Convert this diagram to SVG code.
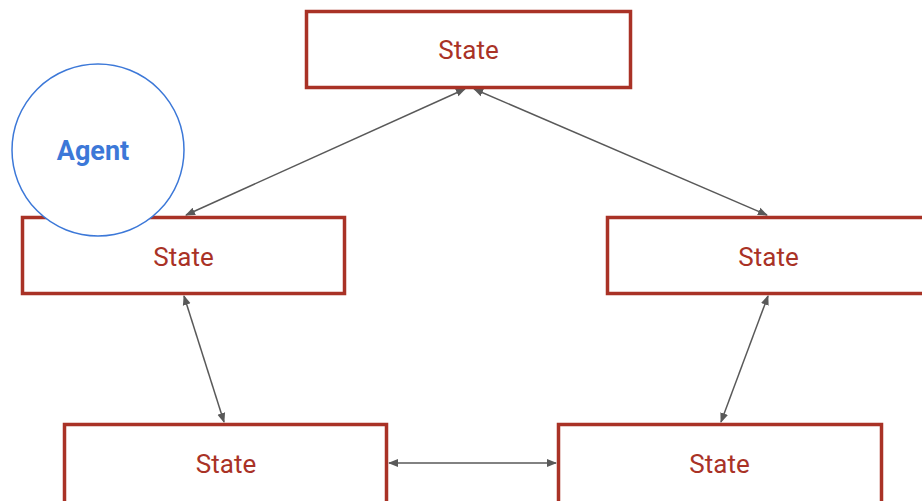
<svg xmlns="http://www.w3.org/2000/svg" width="922" height="501" viewBox="0 0 922 501">
  <style>
    .state rect { fill: #ffffff; stroke: #a93226; stroke-width: 3.5; }
    .state text { fill: #a93226; font-family: Roboto, "Liberation Sans", sans-serif; font-size: 26px; text-anchor: middle; }
    .edge { stroke: #595959; stroke-width: 1.5; fill: none; marker-start: url(#arrow); marker-end: url(#arrow); }
  </style>
  <defs>
    <marker id="arrow" viewBox="0 0 10 10" refX="9" refY="5" markerWidth="10" markerHeight="10" markerUnits="userSpaceOnUse" orient="auto-start-reverse">
      <path d="M0,1 L10,5 L0,9 Z" fill="#595959"/>
    </marker>
  </defs>
  <rect width="922" height="501" fill="#ffffff"/>

  <g id="connectors">
    <line class="edge" x1="465" y1="89" x2="186" y2="215"/>
    <line class="edge" x1="474" y1="89" x2="767" y2="215"/>
    <line class="edge" x1="184" y1="296" x2="224" y2="422"/>
    <line class="edge" x1="768" y1="296" x2="721" y2="422"/>
    <line class="edge" x1="389" y1="463" x2="556" y2="463"/>
  </g>

  <g id="state-top" class="state">
    <rect x="306.5" y="11.5" width="324" height="76"/>
    <text x="468.5" y="59">State</text>
  </g>
  <g id="state-left" class="state">
    <rect x="22.5" y="217.5" width="322" height="76"/>
    <text x="183.5" y="266">State</text>
  </g>
  <g id="state-right" class="state">
    <rect x="607.5" y="217.5" width="322" height="76"/>
    <text x="768.5" y="266">State</text>
  </g>
  <g id="state-bottom-left" class="state">
    <rect x="64.5" y="424.5" width="322" height="80"/>
    <text x="226" y="473">State</text>
  </g>
  <g id="state-bottom-right" class="state">
    <rect x="558.5" y="424.5" width="323" height="80"/>
    <text x="719.5" y="473">State</text>
  </g>

  <g id="agent">
    <circle cx="98" cy="150" r="86" fill="#ffffff" stroke="#3c78d8" stroke-width="1.5"/>
    <text x="93" y="160" fill="#3c78d8" font-family="Roboto, 'Liberation Sans', sans-serif" font-size="27" font-weight="bold" text-anchor="middle">Agent</text>
  </g>
</svg>
